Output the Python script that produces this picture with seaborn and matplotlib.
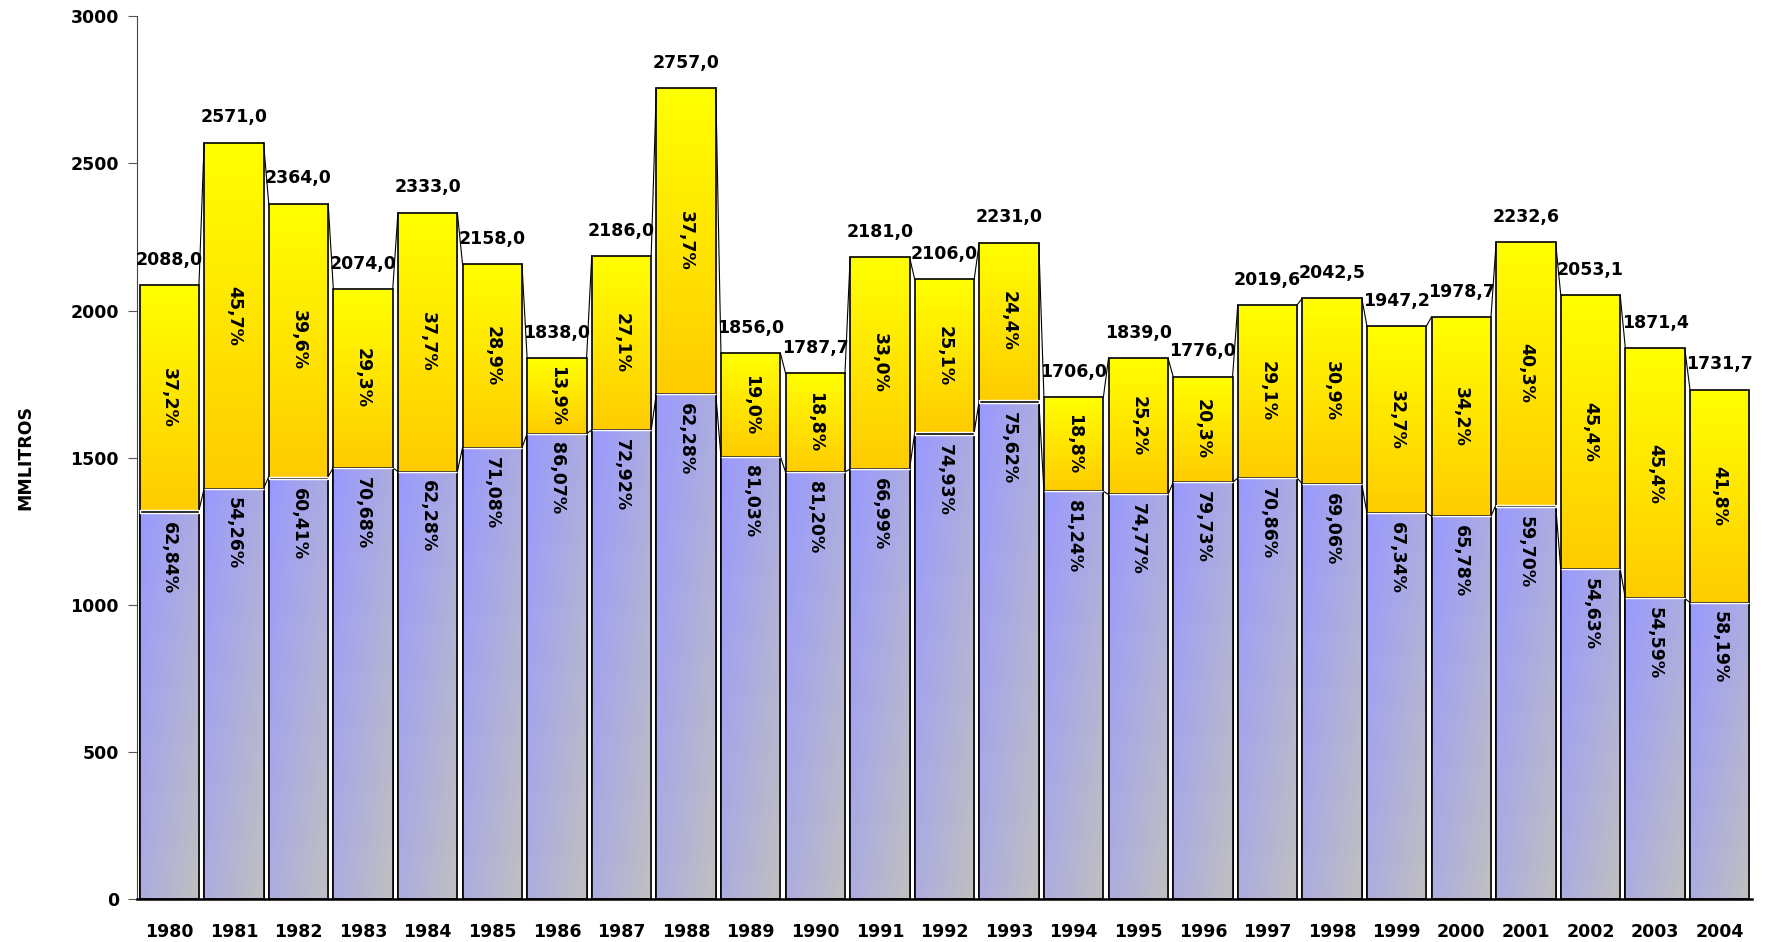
import matplotlib
matplotlib.use("Agg")
import matplotlib.pyplot as plt
import numpy as np
import seaborn as sns

years = [str(y) for y in range(1980, 2005)]
totales = [2088.0, 2571.0, 2364.0, 2074.0, 2333.0, 2158.0, 1838.0, 2186.0, 2757.0,
           1856.0, 1787.7, 2181.0, 2106.0, 2231.0, 1706.0, 1839.0, 1776.0, 2019.6,
           2042.5, 1947.2, 1978.7, 2232.6, 2053.1, 1871.4, 1731.7]
pct_azul = [62.84, 54.26, 60.41, 70.68, 62.28, 71.08, 86.07, 72.92, 62.28, 81.03,
            81.20, 66.99, 74.93, 75.62, 81.24, 74.77, 79.73, 70.86, 69.06, 67.34,
            65.78, 59.70, 54.63, 54.59, 58.19]
pct_amarillo = [37.2, 45.7, 39.6, 29.3, 37.7, 28.9, 13.9, 27.1, 37.7, 19.0, 18.8,
                33.0, 25.1, 24.4, 18.8, 25.2, 20.3, 29.1, 30.9, 32.7, 34.2, 40.3,
                45.4, 45.4, 41.8]
# thin dark segment between the two series
otros = [9, 0, 8, 0, 0, 0, 0, 0, 0, 0, 0, 0, 8, 9, 0, 0, 0, 0, 0, 0, 0, 8, 0, 0, 0]

azul = [t * p / 100 for t, p in zip(totales, pct_azul)]

sns.set_style("white")
plt.rcParams["font.family"] = ["DejaVu Sans"]
plt.rcParams["font.weight"] = "bold"
plt.rcParams["text.color"] = "black"
plt.rcParams["axes.labelcolor"] = "black"
plt.rcParams["xtick.labelcolor"] = "black"
plt.rcParams["ytick.labelcolor"] = "black"

fig = plt.figure(figsize=(17.67, 9.42), dpi=100)
ax = fig.add_axes([0.0775, 0.0456, 0.914, 0.937])

W = 0.92
sns.barplot(x=years, y=totales, color="#FFFF00", saturation=1, width=W,
            edgecolor="black", linewidth=1.2, ax=ax)
sns.barplot(x=years, y=azul, color="#9999FF", saturation=1, width=W,
            edgecolor="black", linewidth=1.2, ax=ax)
n = len(years)
top_patches = ax.patches[:n]
low_patches = ax.patches[n:2 * n]

# gradients
g = np.linspace(0, 1, 64)
uu, vv = np.meshgrid(g, g)
t = (uu + vv) / 2
c0 = np.array([153, 153, 255]) / 255
c1 = np.array([192, 192, 192]) / 255
img_azul = c0 + (c1 - c0) * t[..., None]
y0 = np.array([255, 255, 0]) / 255
y1 = np.array([255, 204, 0]) / 255
img_amar = y0 + (y1 - y0) * vv[..., None]

for i in range(n):
    p = top_patches[i]
    x0, w = p.get_x(), p.get_width()
    p.set_facecolor("none")
    p.set_zorder(2)
    im = ax.imshow(img_amar, extent=[x0, x0 + w, azul[i] + otros[i], totales[i]],
                   origin="upper", aspect="auto", zorder=1, interpolation="bilinear")
    im.set_clip_path(p)
    q = low_patches[i]
    q.set_facecolor("none")
    q.set_zorder(4)
    im2 = ax.imshow(img_azul, extent=[x0, x0 + w, 0, azul[i]],
                    origin="upper", aspect="auto", zorder=3, interpolation="bilinear")
    im2.set_clip_path(q)

xs = np.arange(n)
ax.bar(xs, otros, bottom=azul, width=W, color="black", zorder=4.5)

# series lines between neighbouring bars
for i in range(n - 1):
    for serie in (totales, [a + o for a, o in zip(azul, otros)]):
        ax.plot([i + W / 2, i + 1 - W / 2], [serie[i], serie[i + 1]],
                color="black", lw=0.8, zorder=4)

# labels
for i in range(n):
    ax.text(i, totales[i] + 55, f"{totales[i]:.1f}".replace(".", ","),
            ha="center", va="bottom", fontsize=12.5, fontweight="bold", zorder=6)
    yc = (azul[i] + otros[i] + totales[i]) / 2
    ax.text(i, yc, f"{pct_amarillo[i]:.1f}%".replace(".", ","), rotation=-90,
            ha="center", va="center", fontsize=12.5, fontweight="bold", zorder=6)
    ax.text(i, azul[i] - 30, f"{pct_azul[i]:.2f}%".replace(".", ","), rotation=-90,
            ha="center", va="top", fontsize=12.5, fontweight="bold", zorder=6)

ax.set_xlim(-0.5, n - 0.5)
ax.set_ylim(0, 3000)
ax.set_yticks(range(0, 3001, 500))
ax.set_xticks(xs)
ax.set_xticklabels(years)
ax.set_xticks(np.arange(-0.5, n, 1.0), minor=True)
ax.tick_params(axis="x", which="major", length=0, pad=17, labelsize=12.5)
ax.tick_params(axis="x", which="minor", length=6, width=0.8, color="#555555", direction="out")
ax.tick_params(axis="y", length=6.5, width=0.8, color="#555555", pad=6.5, labelsize=12.5,
               left=True)
for lab in ax.get_xticklabels() + ax.get_yticklabels():
    lab.set_fontweight("bold")
ax.set_xlabel("")
ax.set_ylabel("MMLITROS", fontsize=12.5, fontweight="bold", labelpad=26)

for s in ("top", "right"):
    ax.spines[s].set_visible(False)
ax.spines["left"].set_color("#444444")
ax.spines["left"].set_linewidth(0.8)
ax.spines["bottom"].set_color("black")
ax.spines["bottom"].set_linewidth(1.8)
ax.spines["bottom"].set_zorder(7)

fig.savefig("out.png", dpi=100)
